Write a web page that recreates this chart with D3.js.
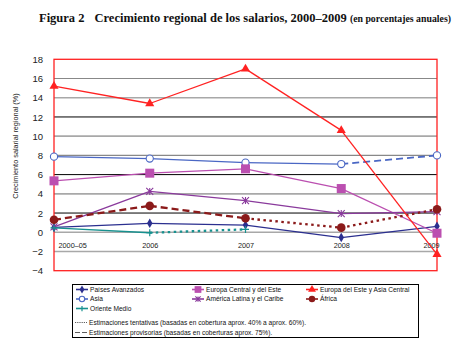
<!DOCTYPE html>
<html><head><meta charset="utf-8">
<script src="https://cdn.jsdelivr.net/npm/d3@7"></script>
<style>body{margin:0;background:#fff}svg{display:block}</style>
</head><body>
<script>
const periods = ["2000–05","2006","2007","2008","2009"];
const yTicks = [-4,-2,0,2,4,6,8,10,12,14,16,18];

const paisesAvanzados = [0.5, 0.93, 0.75, -0.55, 0.62];
const europaCentral = [5.35, 6.15, 6.6, 4.55, -0.1];
const europaEsteAsiaCentral = [15.2, 13.4, 17.0, 10.6, -2.3];
const asia = [7.87, 7.67, 7.25, 7.1, 8.0];
const americaLatina = [0.55, 4.25, 3.3, 1.95, 2.15];
const africa = [1.3, 2.75, 1.45, 0.48, 2.4];
const orienteMedio = [0.45, -0.05, 0.3, null, null];

// estimate type of each segment: f = final, p = provisional, t = tentative
const paisesAvanzadosSeg = ["f","f","f","f"];
const europaCentralSeg = ["f","f","f","f"];
const europaEsteSeg = ["f","f","f","f"];
const asiaSeg = ["f","f","f","p"];
const americaLatinaSeg = ["f","f","f","f"];
const africaSeg = ["p","p","t","t"];
const orienteMedioSeg = ["f","t","t","t"];

const seriesNames = ["Países Avanzados","Europa Central y del Este","Europa del Este y Asia Central","Asia","América Latina y el Caribe","África","Oriente Medio"];

const series = [
  {name: seriesNames[0], values: paisesAvanzados, seg: paisesAvanzadosSeg, color: "#2b2f8f", marker: "diamond"},
  {name: seriesNames[3], values: asia, seg: asiaSeg, color: "#4a67c4", marker: "ocircle"},
  {name: seriesNames[1], values: europaCentral, seg: europaCentralSeg, color: "#bb4fb0", marker: "square"},
  {name: seriesNames[4], values: americaLatina, seg: americaLatinaSeg, color: "#8a3a9c", marker: "star"},
  {name: seriesNames[6], values: orienteMedio, seg: orienteMedioSeg, color: "#17918f", marker: "plus"},
  {name: seriesNames[5], values: africa, seg: africaSeg, color: "#8b1a1a", marker: "circle"},
  {name: seriesNames[2], values: europaEsteAsiaCentral, seg: europaEsteSeg, color: "#ff2222", marker: "triangle"}
];

const W = 465, H = 351;
const svg = d3.select("body").append("svg").attr("width", W).attr("height", H);

const x = d3.scalePoint().domain(periods).range([54, 437]);
const y = d3.scaleLinear().domain([-4, 18]).range([270.7, 59.3]);

// Title
const title = svg.append("text").attr("x", 39).attr("y", 22)
  .attr("font-family", "Liberation Serif, Times New Roman, serif").attr("font-weight", "bold").attr("fill", "#111");
title.append("tspan").attr("font-size", 12.5).text("Figura 2");
title.append("tspan").attr("font-size", 12.5).attr("dx", 10).text("Crecimiento regional de los salarios, 2000–2009 ");
title.append("tspan").attr("font-size", 9.8).text("(en porcentajes anuales)");

// Gridlines
const gridStyle = v => {
  if (v === 12 || v === 6 || v === 2) return {c: "#000", w: 1};
  if (v === 16 || v === 8) return {c: "#888", w: 1.2};
  return {c: "#a8a8a8", w: 1.6};
};
svg.append("g").selectAll("line").data(yTicks.filter(v => v > -4 && v < 18)).join("line")
  .attr("x1", 54).attr("x2", 437)
  .attr("y1", d => y(d)).attr("y2", d => y(d))
  .attr("stroke", d => gridStyle(d).c).attr("stroke-width", d => gridStyle(d).w);

// Frame
svg.append("rect").attr("x", 54).attr("y", y(18)).attr("width", 437 - 54).attr("height", y(-4) - y(18))
  .attr("fill", "none").attr("stroke", "#ff2020").attr("stroke-width", 1.3);

// Y axis
const yAxis = d3.axisLeft(y).tickValues(yTicks).tickSize(0).tickPadding(11).tickFormat(d => d < 0 ? "−" + Math.abs(d) : d);
const gy = svg.append("g").attr("transform", "translate(54,0)").call(yAxis);
gy.select(".domain").remove();
gy.selectAll("text").attr("font-family", "Liberation Sans, Arial, sans-serif").attr("font-size", 9.5).attr("fill", "#222");

svg.append("text").attr("transform", "translate(18,146) rotate(-90)").attr("text-anchor", "middle")
  .attr("font-family", "Liberation Sans, Arial, sans-serif").attr("font-size", 7.3).attr("fill", "#222")
  .text("Crecimiento salarial regional (%)");

// X labels (inside plot)
const xAxis = d3.axisBottom(x).tickSize(0).tickPadding(0);
const gx = svg.append("g").attr("transform", "translate(0," + (y(0) + 15.5) + ")").call(xAxis);
gx.select(".domain").remove();
gx.selectAll("text").attr("font-family", "Liberation Sans, Arial, sans-serif").attr("font-size", 7.3).attr("fill", "#222")
  .attr("dy", 0)
  .attr("text-anchor", (d, i) => i === 0 ? "start" : "middle")
  .attr("dx", (d, i) => i === 0 ? 4 : (i === 4 ? -6 : 0));

// Lines
const dashFor = k => k === "p" ? "7,4" : (k === "t" ? "2.5,3.5" : null);
const widthFor = (k, s) => k === "p" ? (s.name === seriesNames[5] ? 2.3 : 1.8) : (k === "t" ? 2.3 : 1.3);
series.forEach(s => {
  const g = svg.append("g");
  const segs = [];
  for (let i = 0; i < s.values.length - 1; i++) {
    if (s.values[i] == null || s.values[i + 1] == null) continue;
    segs.push({i, k: s.seg[i]});
  }
  g.selectAll("line").data(segs).join("line")
    .attr("x1", d => x(periods[d.i])).attr("x2", d => x(periods[d.i + 1]))
    .attr("y1", d => y(s.values[d.i])).attr("y2", d => y(s.values[d.i + 1]))
    .attr("stroke", s.color).attr("stroke-width", d => widthFor(d.k, s))
    .attr("stroke-dasharray", d => dashFor(d.k));
  const pts = s.values.map((v, i) => ({v, i})).filter(d => d.v != null);
  pts.forEach(d => drawMarker(g, s.marker, x(periods[d.i]), y(d.v), s.color, 1));
});

function drawMarker(g, type, cx, cy, color, scale) {
  const sc = scale || 1;
  if (type === "diamond") {
    g.append("path").attr("d", d3.symbol(d3.symbolDiamond, 26 * sc)()).attr("transform", `translate(${cx},${cy})`).attr("fill", color);
  } else if (type === "square") {
    g.append("rect").attr("x", cx - 4.5 * sc).attr("y", cy - 4.5 * sc).attr("width", 9 * sc).attr("height", 9 * sc).attr("fill", color);
  } else if (type === "triangle") {
    g.append("path").attr("d", d3.symbol(d3.symbolTriangle, 36 * sc)()).attr("transform", `translate(${cx},${cy})`).attr("fill", color);
  } else if (type === "ocircle") {
    g.append("circle").attr("cx", cx).attr("cy", cy).attr("r", 3.6 * sc).attr("fill", "#fff").attr("stroke", color).attr("stroke-width", 1.1);
  } else if (type === "circle") {
    g.append("circle").attr("cx", cx).attr("cy", cy).attr("r", 4.3 * sc).attr("fill", color);
  } else if (type === "star") {
    const r = 3.5 * sc;
    g.append("path").attr("d", `M${cx - r},${cy - r}L${cx + r},${cy + r}M${cx - r},${cy + r}L${cx + r},${cy - r}M${cx},${cy - r}L${cx},${cy + r}`)
      .attr("stroke", color).attr("stroke-width", 1.1).attr("fill", "none");
  } else if (type === "plus") {
    const r = 3.5 * sc;
    g.append("path").attr("d", `M${cx - r},${cy}L${cx + r},${cy}M${cx},${cy - r}L${cx},${cy + r}`)
      .attr("stroke", color).attr("stroke-width", 1.2).attr("fill", "none");
  }
}

// Legend
const LF = 6.6;
const leg = svg.append("g");
leg.append("rect").attr("x", 72.5).attr("y", 284.5).attr("width", 346).attr("height", 53)
  .attr("fill", "#fff").attr("stroke", "#000").attr("stroke-width", 1);
const legendOrder = [
  [seriesNames[0], 0, 0], [seriesNames[1], 1, 0], [seriesNames[2], 2, 0],
  [seriesNames[3], 0, 1], [seriesNames[4], 1, 1], [seriesNames[5], 2, 1],
  [seriesNames[6], 0, 2]
];
const colX = [76, 192, 306];
const rowY = [289.5, 299, 308.5];
legendOrder.forEach(([name, c, r]) => {
  const s = series.find(d => d.name === name);
  const x0 = colX[c], yy = rowY[r];
  leg.append("line").attr("x1", x0).attr("x2", x0 + 12).attr("y1", yy).attr("y2", yy).attr("stroke", s.color).attr("stroke-width", 1.6);
  drawMarker(leg, s.marker, x0 + 6, yy, s.color, 0.75);
  leg.append("text").attr("x", x0 + 14).attr("y", yy + 2.4)
    .attr("font-family", "Liberation Sans, Arial, sans-serif").attr("font-size", LF).attr("fill", "#111").text(name);
});
leg.append("line").attr("x1", 75).attr("x2", 87).attr("y1", 322.5).attr("y2", 322.5).attr("stroke", "#333").attr("stroke-width", 0.8).attr("stroke-dasharray", "1.2,1");
leg.append("text").attr("x", 89).attr("y", 325).attr("font-family", "Liberation Sans, Arial, sans-serif").attr("font-size", LF).attr("fill", "#111")
  .text("Estimaciones tentativas (basadas en cobertura aprox. 40% a aprox. 60%).");
leg.append("line").attr("x1", 75).attr("x2", 87).attr("y1", 332.5).attr("y2", 332.5).attr("stroke", "#333").attr("stroke-width", 0.8).attr("stroke-dasharray", "5,2");
leg.append("text").attr("x", 89).attr("y", 335).attr("font-family", "Liberation Sans, Arial, sans-serif").attr("font-size", LF).attr("fill", "#111")
  .text("Estimaciones provisorias (basadas en coberturas aprox. 75%).");
</script>
</body></html>
